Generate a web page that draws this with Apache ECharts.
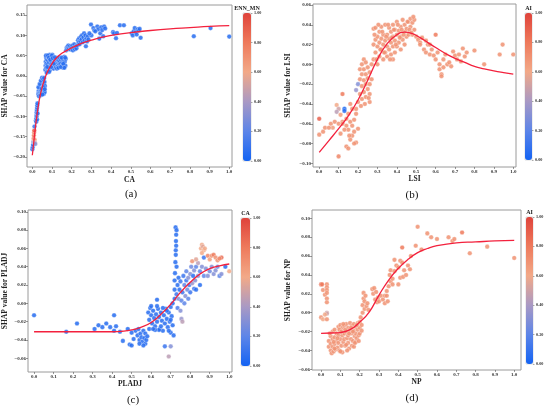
<!DOCTYPE html>
<html>
<head>
<meta charset="utf-8">
<script src="https://cdn.jsdelivr.net/npm/echarts@6.0.0/dist/echarts.min.js"></script>
<style>
html, body { margin: 0; padding: 0; background: #fff; }
#main { width: 550px; height: 409px; }
</style>
</head>
<body>
<div id="main"></div>
<script>
// tick labels
var xTicks = [0.0, 0.1, 0.2, 0.3, 0.4, 0.5, 0.6, 0.7, 0.8, 0.9, 1.0];
var yTicksA = [-0.20, -0.15, -0.10, -0.05, 0.00, 0.05, 0.10, 0.15];
var yTicksB = [-0.10, -0.08, -0.06, -0.04, -0.02, 0.00, 0.02, 0.04, 0.06];
var yTicksC = [-0.06, -0.04, -0.02, 0.00, 0.02, 0.04, 0.06, 0.08, 0.10];
var yTicksD = [-0.06, -0.04, -0.02, 0.00, 0.02, 0.04, 0.06, 0.08, 0.10];

// (a) CA : [x, shap, ENN_MN]
var pointsA = [
  [0.0,-0.181,0.05],[0.002,-0.176,0.1],[0.004,-0.17,0.05],[0.005,-0.163,0.3],[0.007,-0.155,0.85],[0.008,-0.147,0.8],
  [0.009,-0.14,0.75],[0.01,-0.135,0.9],[0.012,-0.158,0.7],[0.013,-0.165,0.5],[0.015,-0.168,0.3],[0.011,-0.125,0.1],
  [0.018,-0.11,0.05],[0.02,-0.105,0.05],[0.021,-0.097,0.1],[0.022,-0.09,0.05],[0.023,-0.084,0.05],[0.024,-0.079,0.1],
  [0.025,-0.073,0.05],[0.026,-0.068,0.05],[0.02,-0.113,0.05],[0.024,-0.108,0.05],[0.022,-0.1,0.2],[0.027,-0.093,0.05],
  [0.03,-0.045,0.05],[0.032,-0.04,0.05],[0.033,-0.036,0.05],[0.035,-0.043,0.05],[0.036,-0.03,0.05],[0.038,-0.045,0.05],
  [0.039,-0.035,0.05],[0.04,-0.025,0.05],[0.041,-0.04,0.05],[0.042,-0.03,0.05],[0.044,-0.036,0.05],[0.045,-0.02,0.05],
  [0.046,-0.043,0.05],[0.047,-0.028,0.05],[0.048,-0.015,0.05],[0.05,-0.038,0.05],[0.051,-0.022,0.05],[0.052,-0.01,0.05],
  [0.053,-0.033,0.05],[0.054,-0.041,0.05],[0.055,-0.018,0.05],[0.056,-0.027,0.05],[0.057,-0.012,0.05],[0.058,-0.036,0.05],
  [0.059,-0.044,0.05],[0.06,-0.022,0.05],[0.061,-0.03,0.05],[0.062,-0.015,0.05],[0.063,-0.04,0.05],[0.064,-0.025,0.05],
  [0.034,-0.05,0.05],[0.043,-0.048,0.05],[0.031,-0.028,0.05],[0.037,-0.02,0.05],[0.043,-0.012,0.05],[0.049,-0.005,0.05],
  [0.055,-0.008,0.05],[0.06,-0.005,0.05],[0.052,-0.046,0.05],[0.047,-0.032,0.05],[0.058,-0.028,0.05],[0.063,-0.033,0.05],
  [0.066,0.015,0.05],[0.067,0.025,0.05],[0.068,0.035,0.05],[0.07,0.045,0.05],[0.071,0.02,0.1],[0.072,0.03,0.05],
  [0.074,0.04,0.05],[0.075,0.05,0.05],[0.077,0.012,0.05],[0.078,0.028,0.05],[0.08,0.038,0.05],[0.081,0.047,0.05],
  [0.083,0.02,0.05],[0.085,0.033,0.05],[0.087,0.043,0.05],[0.088,0.052,0.05],[0.09,0.015,0.05],[0.092,0.026,0.05],
  [0.094,0.036,0.05],[0.095,0.045,0.05],[0.097,0.03,0.05],[0.1,0.021,0.05],[0.1,0.04,0.05],[0.102,0.052,0.05],
  [0.104,0.028,0.05],[0.106,0.035,0.05],[0.108,0.018,0.05],[0.11,0.042,0.05],[0.112,0.025,0.05],[0.114,0.032,0.05],
  [0.116,0.038,0.05],[0.118,0.022,0.05],[0.12,0.03,0.05],[0.122,0.042,0.05],[0.124,0.027,0.05],[0.126,0.035,0.05],
  [0.128,0.04,0.05],[0.13,0.024,0.05],[0.132,0.031,0.05],[0.134,0.038,0.05],[0.136,0.045,0.05],[0.138,0.028,0.05],
  [0.14,0.035,0.05],[0.143,0.03,0.05],[0.146,0.04,0.05],[0.15,0.025,0.05],[0.152,0.033,0.05],[0.154,0.043,0.05],
  [0.156,0.02,0.05],[0.158,0.038,0.05],[0.16,0.028,0.05],[0.162,0.047,0.05],[0.165,0.035,0.05],[0.168,0.025,0.05],
  [0.17,0.042,0.05],[0.073,0.008,0.05],[0.086,0.01,0.05],
  [0.069,0.05,0.05],[0.076,0.022,0.05],[0.079,0.05,0.05],[0.084,0.045,0.05],[0.091,0.04,0.05],[0.096,0.022,0.05],
  [0.099,0.05,0.05],[0.103,0.044,0.05],[0.109,0.03,0.05],[0.115,0.046,0.05],[0.125,0.018,0.05],[0.133,0.02,0.05],
  [0.145,0.022,0.05],[0.149,0.045,0.05],[0.157,0.03,0.05],[0.163,0.02,0.05],[0.167,0.045,0.05],
  [0.172,0.063,0.05],[0.175,0.07,0.05],[0.178,0.066,0.05],[0.18,0.072,0.05],[0.183,0.075,0.05],[0.186,0.068,0.05],
  [0.19,0.073,0.05],[0.193,0.065,0.05],[0.196,0.07,0.05],[0.2,0.068,0.05],[0.203,0.075,0.05],[0.206,0.063,0.05],
  [0.21,0.07,0.05],[0.213,0.078,0.05],[0.216,0.066,0.05],[0.22,0.072,0.05],[0.224,0.068,0.05],[0.228,0.075,0.05],
  [0.232,0.088,0.05],[0.235,0.082,0.05],[0.238,0.093,0.05],[0.24,0.078,0.05],[0.244,0.086,0.05],[0.247,0.097,0.05],
  [0.25,0.09,0.05],[0.253,0.1,0.05],[0.256,0.083,0.05],[0.26,0.095,0.05],[0.263,0.105,0.05],[0.266,0.088,0.05],
  [0.27,0.1,0.05],[0.272,0.073,0.05],[0.275,0.092,0.05],[0.278,0.085,0.05],[0.282,0.098,0.05],[0.285,0.09,0.05],
  [0.298,0.127,0.05],[0.3,0.1,0.05],[0.31,0.118,0.05],[0.315,0.112,0.05],[0.33,0.122,0.05],[0.335,0.115,0.05],
  [0.34,0.092,0.05],[0.345,0.105,0.05],[0.35,0.12,0.05],[0.355,0.113,0.05],[0.36,0.098,0.05],[0.365,0.122,0.05],
  [0.37,0.117,0.05],[0.41,0.108,0.05],[0.415,0.105,0.05],[0.425,0.093,0.05],[0.43,0.106,0.05],[0.445,0.125,0.05],
  [0.465,0.125,0.05],[0.505,0.105,0.05],[0.51,0.1,0.05],[0.515,0.11,0.05],[0.52,0.118,0.05],[0.525,0.108,0.05],
  [0.53,0.102,0.05],[0.535,0.115,0.05],[0.54,0.112,0.05],[0.545,0.116,0.05],[0.55,0.094,0.05],[0.32,0.11,0.05],
  [0.29,0.105,0.05],[0.82,0.098,0.05],[0.905,0.118,0.05],[1.0,0.097,0.05]
];
var curveA = [
  [0,-0.196],[0.005,-0.175],[0.01,-0.152],[0.015,-0.13],[0.02,-0.11],[0.03,-0.075],[0.04,-0.048],[0.05,-0.028],
  [0.06,-0.012],[0.07,0.002],[0.08,0.013],[0.1,0.03],[0.12,0.043],[0.15,0.056],[0.2,0.069],[0.25,0.08],[0.3,0.088],
  [0.35,0.095],[0.4,0.1],[0.5,0.107],[0.6,0.112],[0.7,0.116],[0.8,0.119],[0.9,0.122],[1.0,0.124]
];

// (b) LSI : [x, shap, AI]
var pointsB = [
  [0.0,-0.055,0.9],[0.0,-0.071,0.7],[0.02,-0.068,0.7],[0.03,-0.064,0.7],[0.06,-0.06,0.7],[0.07,-0.064,0.65],
  [0.08,-0.058,0.7],[0.09,-0.041,0.6],[0.1,-0.045,0.5],[0.09,-0.048,0.45],[0.1,-0.06,0.7],[0.11,-0.051,0.65],
  [0.12,-0.03,0.8],[0.12,-0.058,0.7],[0.13,-0.045,0.0],[0.13,-0.047,0.05],[0.14,-0.055,0.7],[0.14,-0.062,0.7],
  [0.15,-0.05,0.7],[0.15,-0.066,0.7],[0.16,-0.04,0.7],[0.16,-0.058,0.7],[0.17,-0.045,0.7],[0.17,-0.062,0.7],
  [0.17,-0.072,0.7],[0.18,-0.068,0.7],[0.18,-0.056,0.7],[0.19,-0.079,0.7],[0.19,-0.05,0.7],[0.14,-0.083,0.7],
  [0.15,-0.085,0.7],[0.16,-0.076,0.7],[0.18,-0.08,0.7],[0.1,-0.093,0.75],[0.2,-0.065,0.7],[0.19,-0.045,0.7],
  [0.2,-0.038,0.7],[0.2,-0.02,0.3],[0.19,-0.026,0.35],[0.12,-0.06,0.7],[0.13,-0.066,0.7],[0.11,-0.07,0.7],
  [0.05,-0.064,0.7],[0.155,-0.072,0.7],
  [0.21,-0.03,0.7],[0.21,-0.015,0.7],[0.21,-0.005,0.7],[0.22,-0.035,0.7],[0.22,-0.022,0.7],[0.22,-0.01,0.7],
  [0.22,0.0,0.7],[0.23,-0.028,0.7],[0.23,-0.016,0.7],[0.23,-0.005,0.7],[0.23,0.005,0.7],[0.24,-0.033,0.7],
  [0.24,-0.02,0.7],[0.24,-0.01,0.7],[0.24,0.002,0.7],[0.25,-0.025,0.7],[0.25,-0.014,0.7],[0.25,-0.003,0.7],
  [0.26,-0.038,0.7],[0.26,-0.03,0.7],[0.26,-0.02,0.7],[0.26,-0.008,0.7],[0.27,-0.015,0.7],[0.27,0.0,0.7],
  [0.255,-0.034,0.7],[0.235,-0.04,0.7],[0.215,-0.042,0.7],
  [0.28,0.005,0.7],[0.28,0.02,0.7],[0.28,0.036,0.7],[0.29,0.012,0.7],[0.29,0.025,0.7],[0.29,0.037,0.7],
  [0.3,0.0,0.7],[0.3,0.018,0.7],[0.3,0.028,0.7],[0.31,0.008,0.7],[0.31,0.022,0.7],[0.31,0.033,0.7],
  [0.32,0.015,0.7],[0.32,0.026,0.7],[0.32,0.038,0.7],[0.33,0.005,0.7],[0.33,0.02,0.7],[0.33,0.03,0.7],
  [0.34,0.012,0.7],[0.34,0.024,0.7],[0.34,0.04,0.7],[0.35,0.008,0.7],[0.35,0.018,0.7],[0.35,0.03,0.7],
  [0.36,0.015,0.7],[0.36,0.026,0.7],[0.36,0.037,0.7],[0.37,0.01,0.7],[0.37,0.022,0.7],[0.37,0.033,0.7],
  [0.38,0.005,0.7],[0.38,0.018,0.7],[0.38,0.028,0.7],[0.38,0.04,0.7],[0.39,0.012,0.7],[0.39,0.024,0.7],
  [0.39,0.035,0.7],[0.4,0.018,0.7],[0.4,0.03,0.7],[0.4,0.043,0.7],[0.41,0.022,0.7],[0.41,0.034,0.7],
  [0.42,0.015,0.7],[0.42,0.028,0.7],[0.42,0.038,0.7],[0.43,0.025,0.7],[0.43,0.045,0.7],[0.44,0.02,0.7],
  [0.44,0.033,0.7],[0.44,0.04,0.7],[0.45,0.028,0.7],[0.45,0.036,0.7],[0.46,0.03,0.7],[0.46,0.043,0.7],
  [0.47,0.038,0.7],[0.47,0.046,0.7],[0.48,0.03,0.7],[0.48,0.042,0.7],[0.49,0.035,0.7],[0.49,0.045,0.7],
  [0.5,0.028,0.7],
  [0.285,0.03,0.7],[0.295,0.005,0.7],[0.305,0.04,0.7],[0.315,0.015,0.7],[0.325,0.033,0.7],[0.335,0.012,0.7],
  [0.345,0.028,0.7],[0.355,0.04,0.7],[0.365,0.005,0.7],[0.375,0.027,0.7],[0.385,0.035,0.7],[0.395,0.02,0.7],
  [0.405,0.04,0.7],[0.415,0.027,0.7],[0.425,0.035,0.7],[0.435,0.03,0.7],[0.455,0.043,0.7],[0.465,0.035,0.7],
  [0.475,0.032,0.7],[0.485,0.048,0.7],
  [0.51,0.025,0.7],[0.52,0.022,0.7],[0.53,0.027,0.7],[0.54,0.015,0.7],[0.55,0.012,0.7],[0.56,0.02,0.7],
  [0.57,0.01,0.7],[0.58,0.015,0.7],[0.59,0.009,0.7],[0.6,0.03,0.8],[0.6,0.005,0.7],[0.61,0.012,0.7],
  [0.62,0.0,0.7],[0.62,-0.005,0.7],[0.63,-0.01,0.7],[0.63,-0.012,0.7],[0.64,-0.003,0.7],[0.64,0.005,0.7],
  [0.65,0.01,0.7],[0.66,0.0,0.7],[0.67,0.002,0.7],[0.68,-0.002,0.7],[0.69,0.013,0.7],[0.7,0.009,0.7],
  [0.71,0.005,0.7],[0.72,0.01,0.7],[0.73,0.003,0.7],[0.74,0.016,0.7],[0.75,0.008,0.7],[0.76,0.012,0.7],
  [0.8,0.014,0.7],[0.52,0.02,0.7],[0.55,0.024,0.7],[0.57,0.02,0.7],
  [0.85,0.0,0.7],[0.93,0.01,0.7],[0.945,0.02,0.7],[1.0,0.01,0.7]
];
var curveB = [
  [0,-0.089],[0.05,-0.077],[0.1,-0.065],[0.15,-0.052],[0.2,-0.036],[0.25,-0.016],[0.3,0.005],[0.35,0.021],
  [0.4,0.03],[0.44,0.0325],[0.48,0.031],[0.52,0.027],[0.56,0.022],[0.6,0.017],[0.65,0.011],[0.7,0.006],
  [0.75,0.002],[0.8,-0.002],[0.85,-0.0045],[0.9,-0.0066],[0.95,-0.0083],[1.0,-0.0098]
];

// (c) PLADJ : [x, shap, CA]
var pointsC = [
  [0.0,-0.013,0.05],[0.165,-0.031,0.05],[0.22,-0.022,0.05],[0.31,-0.028,0.05],[0.33,-0.024,0.05],[0.35,-0.026,0.05],
  [0.37,-0.022,0.05],[0.39,-0.026,0.05],[0.41,-0.013,0.05],[0.41,-0.03,0.05],[0.42,-0.025,0.05],[0.44,-0.031,0.05],
  [0.455,-0.041,0.05],[0.48,-0.028,0.05],[0.49,-0.045,0.05],[0.5,-0.046,0.05],[0.5,-0.032,0.05],[0.51,-0.039,0.05],
  [0.52,-0.03,0.05],
  [0.53,-0.035,0.05],[0.535,-0.028,0.05],[0.54,-0.04,0.05],[0.545,-0.033,0.05],[0.55,-0.037,0.05],[0.555,-0.042,0.05],
  [0.56,-0.03,0.05],[0.565,-0.038,0.05],[0.57,-0.044,0.05],[0.57,-0.033,0.05],[0.575,-0.04,0.05],[0.58,-0.036,0.05],
  [0.54,-0.044,0.05],[0.56,-0.046,0.05],
  [0.585,-0.01,0.05],[0.59,-0.018,0.05],[0.595,-0.005,0.05],[0.6,-0.013,0.05],[0.605,-0.022,0.05],[0.61,-0.008,0.05],
  [0.615,-0.016,0.05],[0.62,-0.025,0.05],[0.625,-0.012,0.05],[0.63,0.004,0.05],[0.63,-0.02,0.05],[0.635,-0.006,0.05],
  [0.64,-0.015,0.05],[0.645,-0.028,0.05],[0.65,-0.01,0.05],[0.655,-0.019,0.05],[0.66,-0.03,0.05],[0.665,-0.013,0.05],
  [0.67,-0.022,0.05],[0.675,-0.006,0.05],[0.68,-0.017,0.05],[0.685,-0.026,0.05],[0.69,-0.01,0.05],[0.695,-0.02,0.05],
  [0.7,-0.032,0.05],[0.7,-0.004,0.05],[0.705,-0.014,0.05],[0.71,-0.024,0.05],[0.715,-0.035,0.05],[0.71,0.0,0.05],
  [0.64,-0.029,0.05],[0.62,-0.029,0.05],[0.67,-0.047,0.1],[0.7,-0.047,0.3],[0.69,-0.058,0.45],
  [0.59,-0.028,0.05],[0.6,-0.003,0.05],[0.61,-0.028,0.05],[0.63,-0.003,0.05],[0.65,-0.025,0.05],[0.66,-0.005,0.05],
  [0.68,-0.008,0.05],[0.69,-0.03,0.05],[0.7,-0.018,0.05],
  [0.72,0.005,0.05],[0.72,0.015,0.05],[0.72,0.025,0.05],[0.722,0.033,0.05],[0.724,0.045,0.05],[0.726,0.053,0.05],
  [0.726,0.058,0.05],[0.728,0.063,0.05],[0.728,0.075,0.05],[0.725,0.083,0.05],[0.73,0.08,0.05],[0.727,0.068,0.05],
  [0.73,0.04,0.05],
  [0.73,0.01,0.1],[0.735,0.02,0.05],[0.735,-0.005,0.15],[0.74,0.028,0.05],[0.74,0.005,0.3],[0.745,0.015,0.05],
  [0.75,-0.008,0.3],[0.75,0.024,0.1],[0.755,0.003,0.2],[0.755,-0.017,0.35],[0.76,-0.02,0.45],[0.76,0.012,0.1],
  [0.765,0.03,0.1],[0.77,0.0,0.2],[0.77,0.02,0.2],[0.775,0.008,0.3],[0.78,0.025,0.1],[0.78,0.035,0.2],
  [0.785,0.015,0.25],[0.79,0.028,0.3],[0.79,0.005,0.2],[0.795,0.02,0.1],[0.8,0.032,0.3],[0.8,0.012,0.1],
  [0.805,0.04,0.25],[0.81,0.022,0.35],[0.815,0.03,0.05],[0.82,0.016,0.1],[0.82,0.036,0.3],[0.825,0.025,0.3],
  [0.83,0.015,0.05],[0.83,0.04,0.2],[0.84,0.03,0.3],[0.84,0.044,0.45],[0.85,0.035,0.2],[0.85,0.02,0.05],
  [0.86,0.04,0.3],[0.87,0.05,0.1],[0.87,0.03,0.2],
  [0.88,0.038,0.3],[0.89,0.03,0.3],[0.9,0.035,0.25],[0.91,0.04,0.3],[0.92,0.032,0.3],[0.93,0.036,0.3],
  [0.94,0.04,0.25],[0.95,0.03,0.2],[0.96,0.032,0.3],[0.98,0.04,0.05],[1.0,0.035,0.6],
  [0.855,0.06,0.6],[0.86,0.064,0.6],[0.865,0.062,0.55],[0.87,0.058,0.6],[0.86,0.055,0.6],[0.875,0.06,0.6],
  [0.81,0.046,0.7],[0.83,0.048,0.55],[0.89,0.052,0.75],[0.9,0.048,0.65],[0.91,0.052,0.7],[0.92,0.053,0.8],
  [0.93,0.05,0.7],[0.94,0.047,0.7],[0.96,0.05,0.85],[0.95,0.049,0.75]
];
var curveC = [
  [0,-0.031],[0.1,-0.031],[0.2,-0.031],[0.3,-0.031],[0.4,-0.031],[0.45,-0.0305],[0.5,-0.029],[0.55,-0.026],
  [0.6,-0.021],[0.65,-0.012],[0.7,-0.001],[0.75,0.012],[0.8,0.023],[0.85,0.032],[0.9,0.038],[0.95,0.041],[1.0,0.043]
];

// (d) NP : [x, shap, AI]
var pointsD = [
  [0.0,0.03,0.85],[0.0,-0.005,0.7],[0.005,0.03,0.8],[0.01,0.024,0.7],[0.01,-0.007,0.6],[0.02,0.019,0.7],
  [0.03,0.03,0.7],[0.03,0.027,0.7],[0.03,0.024,0.7],[0.03,0.021,0.7],[0.03,0.015,0.7],[0.03,0.011,0.7],
  [0.03,0.0,0.5],[0.03,-0.001,0.5],[0.02,-0.002,0.6],[0.03,-0.007,0.7],
  [0.04,-0.03,0.7],[0.04,-0.036,0.7],[0.05,-0.025,0.7],[0.05,-0.033,0.7],[0.05,-0.04,0.7],[0.055,-0.043,0.7],
  [0.06,-0.02,0.7],[0.06,-0.028,0.7],[0.06,-0.036,0.7],[0.065,-0.041,0.7],[0.07,-0.018,0.7],[0.07,-0.026,0.7],
  [0.07,-0.033,0.7],[0.075,-0.039,0.7],[0.08,-0.022,0.7],[0.08,-0.03,0.7],[0.085,-0.037,0.7],[0.09,-0.015,0.7],
  [0.09,-0.024,0.7],[0.09,-0.032,0.7],[0.095,-0.04,0.7],[0.1,-0.013,0.7],[0.1,-0.02,0.7],[0.1,-0.028,0.7],
  [0.105,-0.035,0.7],[0.11,-0.042,0.7],[0.11,-0.016,0.7],[0.11,-0.024,0.7],[0.115,-0.031,0.7],[0.12,-0.014,0.7],
  [0.12,-0.022,0.7],[0.12,-0.028,0.7],[0.125,-0.035,0.7],[0.13,-0.012,0.7],[0.13,-0.02,0.7],[0.135,-0.027,0.7],
  [0.14,-0.016,0.7],[0.14,-0.024,0.7],[0.14,-0.032,0.7],[0.145,-0.038,0.7],[0.15,-0.011,0.7],[0.15,-0.02,0.7],
  [0.155,-0.028,0.7],[0.16,-0.014,0.7],[0.16,-0.022,0.7],[0.16,-0.035,0.7],[0.165,-0.03,0.7],[0.17,-0.012,0.7],
  [0.17,-0.019,0.7],[0.175,-0.025,0.7],[0.18,-0.015,0.7],[0.18,-0.022,0.7],[0.18,-0.031,0.7],[0.185,-0.027,0.7],
  [0.19,-0.011,0.7],[0.19,-0.018,0.7],[0.195,-0.024,0.7],[0.2,-0.01,0.7],[0.2,-0.016,0.7],[0.2,-0.022,0.7],
  [0.205,-0.005,0.7],[0.21,-0.013,0.7],[0.21,-0.019,0.7],[0.1,-0.041,0.7],[0.17,-0.036,0.7],[0.13,-0.034,0.7],
  [0.07,-0.038,0.7],
  [0.045,-0.022,0.7],[0.065,-0.031,0.7],[0.085,-0.027,0.7],[0.095,-0.018,0.7],[0.105,-0.02,0.7],[0.115,-0.012,0.7],
  [0.125,-0.018,0.7],[0.135,-0.04,0.7],[0.145,-0.022,0.7],[0.155,-0.016,0.7],[0.165,-0.02,0.7],[0.175,-0.032,0.7],
  [0.185,-0.013,0.7],[0.195,-0.03,0.7],
  [0.215,0.0,0.7],[0.215,0.008,0.7],[0.22,0.015,0.7],[0.22,0.021,0.7],[0.225,0.004,0.7],[0.225,0.012,0.7],
  [0.23,0.018,0.7],[0.235,0.007,0.7],[0.24,0.01,0.7],[0.245,0.003,0.7],[0.265,0.025,0.7],[0.27,0.02,0.7],
  [0.275,0.026,0.7],[0.28,0.014,0.7],[0.285,0.022,0.7],[0.29,0.011,0.7],[0.295,0.016,0.7],[0.3,0.012,0.7],
  [0.31,0.018,0.7],[0.32,0.014,0.7],[0.33,0.01,0.7],[0.33,0.018,0.7],[0.34,0.023,0.7],[0.345,0.012,0.7],
  [0.35,0.028,0.7],[0.355,0.04,0.7],[0.36,0.033,0.7],[0.36,0.045,0.7],[0.37,0.036,0.7],[0.37,0.03,0.7],
  [0.38,0.056,0.7],[0.38,0.044,0.7],[0.39,0.05,0.7],[0.4,0.03,0.7],[0.41,0.037,0.7],[0.41,0.055,0.7],
  [0.42,0.069,0.8],[0.42,0.053,0.7],[0.425,0.038,0.7],[0.43,0.045,0.7],[0.44,0.04,0.7],[0.45,0.05,0.7],
  [0.46,0.046,0.7],[0.465,0.06,0.7],[0.49,0.071,0.7],[0.5,0.091,0.7],[0.52,0.067,0.7],[0.55,0.084,0.7],
  [0.57,0.08,0.7],[0.6,0.078,0.7],[0.66,0.08,0.7],[0.68,0.076,0.7],[0.69,0.078,0.7],[0.73,0.085,0.8],
  [0.77,0.063,0.7],[0.86,0.07,0.7],[1.0,0.058,0.7],[0.34,0.018,0.7],[0.4,0.048,0.7]
];
var curveD = [
  [0,-0.022],[0.05,-0.0215],[0.1,-0.021],[0.15,-0.018],[0.2,-0.01],[0.25,0.001],[0.3,0.0187],[0.35,0.0346],
  [0.4,0.047],[0.45,0.0565],[0.5,0.0636],[0.55,0.068],[0.6,0.071],[0.7,0.074],[0.8,0.075],[0.9,0.076],[1.0,0.0767]
];

// layout of the four panels
var panels = [
  { points: pointsA, curve: curveA, yTicks: yTicksA, xName: 'CA', yName: 'SHAP value for CA', barName: 'ENN_MN', tag: '(a)',
    grid: { left: 27, top: 5, width: 205, height: 162 }, x: [-0.027, 1.014], y: [-0.225, 0.175],
    bar: { left: 243, top: 13, width: 8, height: 148 }, yGap: 18, xGap: 9, tagPos: [131, 194] },
  { points: pointsB, curve: curveB, yTicks: yTicksB, xName: 'LSI', yName: 'SHAP value for LSI', barName: 'AI', tag: '(b)',
    grid: { left: 313, top: 4, width: 203, height: 163 }, x: [-0.032, 1.014], y: [-0.1037, 0.061],
    bar: { left: 525, top: 13, width: 7, height: 147 }, yGap: 21, xGap: 8, tagPos: [412, 195] },
  { points: pointsC, curve: curveC, yTicks: yTicksC, xName: 'PLADJ', yName: 'SHAP value for PLADJ', barName: 'CA', tag: '(c)',
    grid: { left: 28, top: 210, width: 204, height: 162 }, x: [-0.031, 1.014], y: [-0.075, 0.102],
    bar: { left: 241, top: 218, width: 9, height: 148 }, yGap: 19, xGap: 5, tagPos: [133, 400] },
  { points: pointsD, curve: curveD, yTicks: yTicksD, xName: 'NP', yName: 'SHAP value for NP', barName: 'AI', tag: '(d)',
    grid: { left: 312, top: 210, width: 209, height: 160 }, x: [-0.047, 1.035], y: [-0.0607, 0.1088],
    bar: { left: 526, top: 217, width: 7, height: 147 }, yGap: 20, xGap: 8, tagPos: [412, 398] }
];

var cmap = ['#1463f3', '#5d85e8', '#a999c4', '#f2a988', '#ee7a5c', '#df433b'];
var font = 'Liberation Serif';

function fmt(d) {
  return function (v) { return v.toFixed(d).replace('-', '\u2212'); };
}

var dom = document.getElementById('main');
var myChart = echarts.init(dom, null, { renderer: 'canvas' });

var option = {
  backgroundColor: '#fff',
  animation: false,
  grid: [], xAxis: [], yAxis: [], series: [], visualMap: [], graphic: []
};

panels.forEach(function (p, i) {
  // plot area
  option.grid.push({ left: p.grid.left, top: p.grid.top, width: p.grid.width, height: p.grid.height,
    show: true, borderColor: '#9a9a9a', borderWidth: 1 });
  option.xAxis.push({
    type: 'value', gridIndex: 2 * i, min: p.x[0], max: p.x[1], position: 'bottom',
    name: p.xName, nameLocation: 'middle', nameGap: p.xGap,
    nameTextStyle: { fontFamily: font, fontWeight: 'bold', fontSize: 7.5, color: '#222' },
    axisLine: { show: false, onZero: false }, splitLine: { show: false },
    axisTick: { show: true, length: 2, lineStyle: { color: '#555', width: 0.6 }, customValues: xTicks },
    axisLabel: { fontFamily: font, fontWeight: 'bold', fontSize: 5, color: '#333', margin: 2,
      customValues: xTicks, formatter: fmt(1) }
  });
  option.yAxis.push({
    type: 'value', gridIndex: 2 * i, min: p.y[0], max: p.y[1], position: 'left',
    name: p.yName, nameLocation: 'middle', nameGap: p.yGap, nameRotate: 90,
    nameTextStyle: { fontFamily: font, fontWeight: 'bold', fontSize: 7.5, color: '#222' },
    axisLine: { show: false, onZero: false }, splitLine: { show: false },
    axisTick: { show: true, length: 2, lineStyle: { color: '#555', width: 0.6 }, customValues: p.yTicks },
    axisLabel: { fontFamily: font, fontWeight: 'bold', fontSize: 5, color: '#333', margin: 2,
      customValues: p.yTicks, formatter: fmt(2) }
  });
  // colorbar axis
  option.grid.push({ left: p.bar.left, top: p.bar.top, width: p.bar.width, height: p.bar.height,
    show: true, borderColor: '#bbb', borderWidth: 0.5 });
  option.xAxis.push({ type: 'value', gridIndex: 2 * i + 1, min: 0, max: 1, show: false });
  option.yAxis.push({
    type: 'value', gridIndex: 2 * i + 1, min: 0, max: 1, interval: 0.2, position: 'right',
    axisLine: { show: false, onZero: false }, splitLine: { show: false },
    axisTick: { show: true, length: 1.5, lineStyle: { color: '#555', width: 0.5 } },
    axisLabel: { fontFamily: font, fontWeight: 'bold', fontSize: 4.2, color: '#333', margin: 3, formatter: fmt(2) }
  });

  option.series.push({
    type: 'scatter', xAxisIndex: 2 * i, yAxisIndex: 2 * i, data: p.points, symbolSize: 4.6,
    itemStyle: { opacity: 0.85, borderColor: 'rgba(255,255,255,0.7)', borderWidth: 0.5 }
  });
  option.series.push({
    type: 'line', xAxisIndex: 2 * i, yAxisIndex: 2 * i, data: p.curve, smooth: true, showSymbol: false,
    lineStyle: { color: '#f3213d', width: 1.3 }, z: 5
  });
  option.visualMap.push({
    type: 'continuous', seriesIndex: 2 * i, dimension: 2, min: 0, max: 1,
    left: p.bar.left, top: p.bar.top, itemWidth: p.bar.width, itemHeight: p.bar.height,
    padding: 0, calculable: false, text: null, hoverLink: false,
    inRange: { color: cmap }
  });

  option.graphic.push({ type: 'text', x: p.bar.left + p.bar.width / 2, y: p.bar.top - 5,
    style: { text: p.barName, font: 'bold 6px "Liberation Serif"', fill: '#222', textAlign: 'center', textVerticalAlign: 'middle' } });
  option.graphic.push({ type: 'text', x: p.tagPos[0], y: p.tagPos[1],
    style: { text: p.tag, font: '11px "Liberation Serif"', fill: '#111', textAlign: 'center', textVerticalAlign: 'middle' } });
});

if (option && typeof option === 'object') {
  myChart.setOption(option, true);
}
</script>
</body>
</html>
